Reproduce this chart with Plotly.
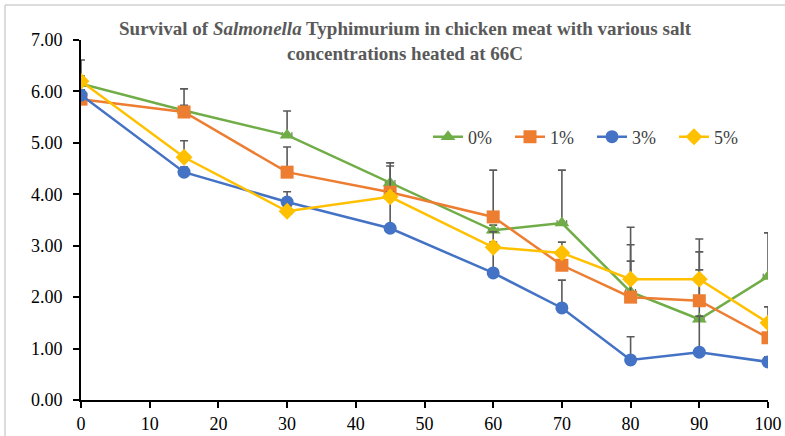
import plotly.graph_objects as go

times = [0, 15, 30, 45, 60, 70, 80, 90, 100]

s0 = [6.15, 5.63, 5.15, 4.22, 3.30, 3.44, 2.10, 1.57, 2.40]
s1 = [5.85, 5.60, 4.43, 4.04, 3.56, 2.62, 2.00, 1.93, 1.21]
s3 = [5.93, 4.43, 3.85, 3.34, 2.47, 1.79, 0.78, 0.93, 0.74]
s5 = [6.20, 4.72, 3.67, 3.95, 2.97, 2.86, 2.35, 2.35, 1.50]

e0 = [0.46, 0.10, 0.47, 0.39, 0.10, 1.03, 0.60, 0.96, 0.85]
e1 = [0.10, 0.45, 0.49, 0.51, 0.91, 0.10, 1.02, 0.95, 0.30]
e3 = [0.10, 0.10, 0.20, 0.62, 0.80, 0.54, 0.45, 0.70, 0.10]
e5 = [0.10, 0.32, 0.10, 0.10, 0.10, 0.21, 1.01, 0.78, 0.31]

labels = ["0%", "1%", "3%", "5%"]
yticks = [0, 1, 2, 3, 4, 5, 6, 7]
xticks = [0, 10, 20, 30, 40, 50, 60, 70, 80, 90, 100]

series = [
    (labels[0], s0, e0, "#70AD47", "triangle-up"),
    (labels[1], s1, e1, "#ED7D31", "square"),
    (labels[2], s3, e3, "#4472C4", "circle"),
    (labels[3], s5, e5, "#FFC000", "diamond"),
]

fig = go.Figure()
for name, ys, es, col, sym in series:
    fig.add_trace(go.Scatter(
        x=times, y=ys, name=name, mode="lines+markers",
        line=dict(color=col, width=2.5),
        marker=dict(symbol=sym, size=13, color=col),
        error_y=dict(type="data", array=es, arrayminus=[0] * len(es),
                     symmetric=False, color="#5a5a5a", thickness=1.6, width=4),
        error_x=dict(type="constant", value=0.7, color="#5a5a5a", thickness=1, width=3),
    ))

font_serif = "Liberation Serif, Times New Roman, serif"

fig.update_layout(
    width=785, height=436,
    margin=dict(l=81, r=17, t=40, b=36, autoexpand=False),
    paper_bgcolor="white", plot_bgcolor="white",
    font=dict(family=font_serif, size=18, color="#000000"),
    showlegend=True,
    legend=dict(orientation="h", x=(428 - 81) / 687, y=(400 - 137) / 360,
                xanchor="left", yanchor="middle",
                font=dict(family=font_serif, size=18, color="#404040"),
                entrywidth=37, entrywidthmode="pixels", bgcolor="rgba(0,0,0,0)"),
    xaxis=dict(range=[0, 100], tickvals=xticks, ticks="outside", ticklen=6,
               tickwidth=1.5, tickcolor="black", showline=True, linecolor="black",
               linewidth=2, showgrid=False, zeroline=False, automargin=False,
               tickfont=dict(family=font_serif, size=18, color="#000000")),
    yaxis=dict(range=[0, 7], tickvals=yticks, tickformat=".2f", ticks="outside",
               ticklen=6, tickwidth=1.5, tickcolor="black", showline=True,
               linecolor="black", linewidth=2, showgrid=False, zeroline=False,
               ticklabelstandoff=7, automargin=False,
               tickfont=dict(family=font_serif, size=18, color="#000000")),
    annotations=[dict(
        text="Survival of <i>Salmonella</i> Typhimurium in chicken meat with various salt<br>concentrations heated at 66C",
        xref="paper", yref="paper", x=(405 - 81) / 687, y=(400 - 41) / 360,
        xanchor="center", yanchor="middle", showarrow=False,
        font=dict(family=font_serif, size=19, color="#595959", weight="bold"),
    )],
    shapes=[
        dict(type="line", xref="paper", yref="paper",
             x0=(5 - 81) / 687, x1=(785 - 81) / 687, y0=(400 - 5) / 360, y1=(400 - 5) / 360,
             line=dict(color="#d0d0d0", width=1.5)),
        dict(type="line", xref="paper", yref="paper",
             x0=(5 - 81) / 687, x1=(5 - 81) / 687, y0=(400 - 5) / 360, y1=(400 - 436) / 360,
             line=dict(color="#d0d0d0", width=1.5)),
    ],
)

fig.write_html("out.html", config={"displayModeBar": False},
               post_script="document.body.style.margin='0px';document.body.style.overflow='hidden';")
